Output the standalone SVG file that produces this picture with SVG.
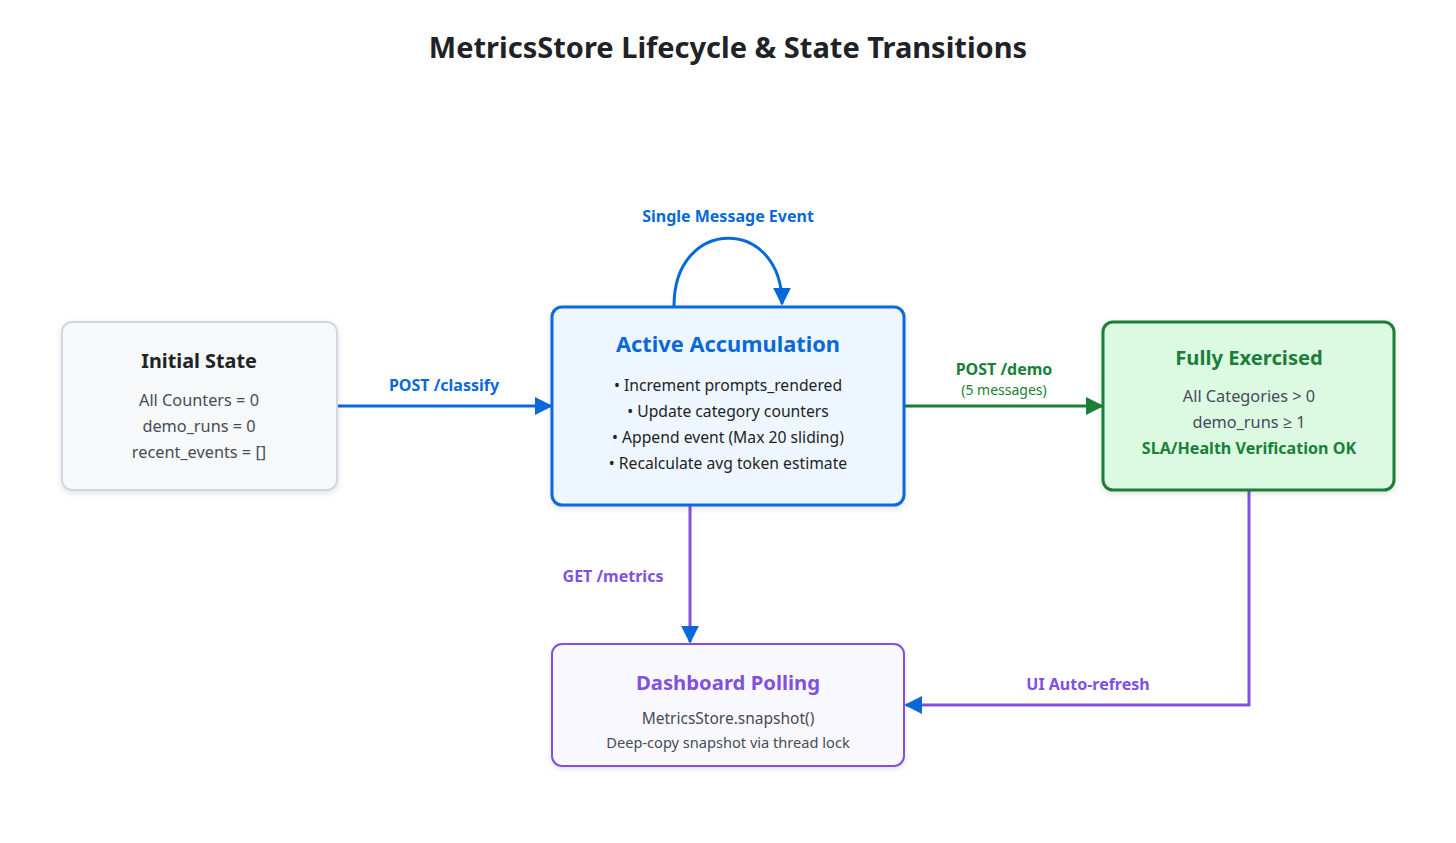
<svg xmlns="http://www.w3.org/2000/svg" width="1456" height="843" viewBox="0 0 1456 843">
<defs>
<style>
text{font-family:"Noto Sans","Open Sans","Liberation Sans",sans-serif;text-anchor:middle}
.title{font-size:29px;font-weight:700;fill:#1f2328}
.h{font-size:20px;font-weight:700}
.b{font-size:16.3px;fill:#444c56}
.lbl{font-size:16px;font-weight:700}
.blue{fill:#0969da}.green{fill:#1a7f37}.purple{fill:#8250df}
</style>
<marker id="ab" viewBox="0 0 10 10" refX="9" refY="5" markerWidth="6" markerHeight="6" orient="auto" markerUnits="strokeWidth"><path d="M0,0L10,5L0,10z" fill="#0969da"/></marker>
<marker id="ag" viewBox="0 0 10 10" refX="9" refY="5" markerWidth="6" markerHeight="6" orient="auto" markerUnits="strokeWidth"><path d="M0,0L10,5L0,10z" fill="#1a7f37"/></marker>
<filter id="sh" x="-10%" y="-10%" width="120%" height="130%"><feDropShadow dx="0" dy="2" stdDeviation="3" flood-color="#000" flood-opacity="0.12"/></filter>
</defs>
<rect width="1456" height="843" fill="#fff"/>
<text class="title" x="728" y="58">MetricsStore Lifecycle &amp; State Transitions</text>
<g id="connectors" fill="none" stroke-width="3">
<path d="M337,406H551" stroke="#0969da" marker-end="url(#ab)"/>
<path d="M904,406H1102" stroke="#1a7f37" marker-end="url(#ag)"/>
<path d="M674,306C674,216 782,216 782,304" stroke="#0969da" marker-end="url(#ab)"/>
<path d="M690,506V642" stroke="#8250df" marker-end="url(#ab)"/>
<path d="M1249,490V705H906" stroke="#8250df" marker-end="url(#ab)"/>
<text class="lbl blue" x="444" y="391" stroke="none">POST /classify</text>
<text class="lbl green" x="1004" y="375" stroke="none">POST /demo</text>
<text x="1004" y="395" style="font-size:14px" fill="#1a7f37" stroke="none">(5 messages)</text>
<text class="lbl blue" x="728" y="222" stroke="none">Single Message Event</text>
<text class="lbl purple" x="613" y="582" stroke="none">GET /metrics</text>
<text class="lbl purple" x="1088" y="690" stroke="none">UI Auto-refresh</text>
</g>
<g id="initial">
<rect x="62" y="322" width="275" height="168" rx="10" fill="#f6f8fa" stroke="#d0d7de" stroke-width="2" filter="url(#sh)"/>
<text class="h" x="199" y="368" fill="#1f2328" style="font-size:19.8px">Initial State</text>
<text class="b" x="199" y="406">All Counters = 0</text>
<text class="b" x="199" y="432">demo_runs = 0</text>
<text class="b" x="199" y="458">recent_events = []</text>
</g>
<g id="active">
<rect x="552" y="307" width="352" height="198" rx="10" fill="#eef6ff" stroke="#0969da" stroke-width="3" filter="url(#sh)"/>
<text class="h blue" x="728" y="352" style="font-size:21.8px">Active Accumulation</text>
<text class="b" x="728" y="391" style="font-size:15.7px;fill:#1f2328">• Increment prompts_rendered</text>
<text class="b" x="728" y="417" style="font-size:15.7px;fill:#1f2328">• Update category counters</text>
<text class="b" x="728" y="443" style="font-size:15.7px;fill:#1f2328">• Append event (Max 20 sliding)</text>
<text class="b" x="728" y="469" style="font-size:15.7px;fill:#1f2328">• Recalculate avg token estimate</text>
</g>
<g id="full">
<rect x="1103" y="322" width="291" height="168" rx="10" fill="#dcf9e2" stroke="#1a7f37" stroke-width="3" filter="url(#sh)"/>
<text class="h green" x="1249" y="365" style="font-size:20.2px">Fully Exercised</text>
<text class="b" x="1249" y="402">All Categories &gt; 0</text>
<text class="b" x="1249" y="428">demo_runs ≥ 1</text>
<text class="lbl green" x="1249" y="454" style="font-size:16.1px">SLA/Health Verification OK</text>
</g>
<g id="dashboard">
<rect x="552" y="644" width="352" height="122" rx="10" fill="#faf8ff" stroke="#8250df" stroke-width="2" filter="url(#sh)"/>
<text class="h purple" x="728" y="690" style="font-size:20.3px">Dashboard Polling</text>
<text class="b" x="728" y="724" style="font-size:15.5px">MetricsStore.snapshot()</text>
<text class="b" x="728" y="748" style="font-size:14.6px">Deep-copy snapshot via thread lock</text>
</g>
</svg>
